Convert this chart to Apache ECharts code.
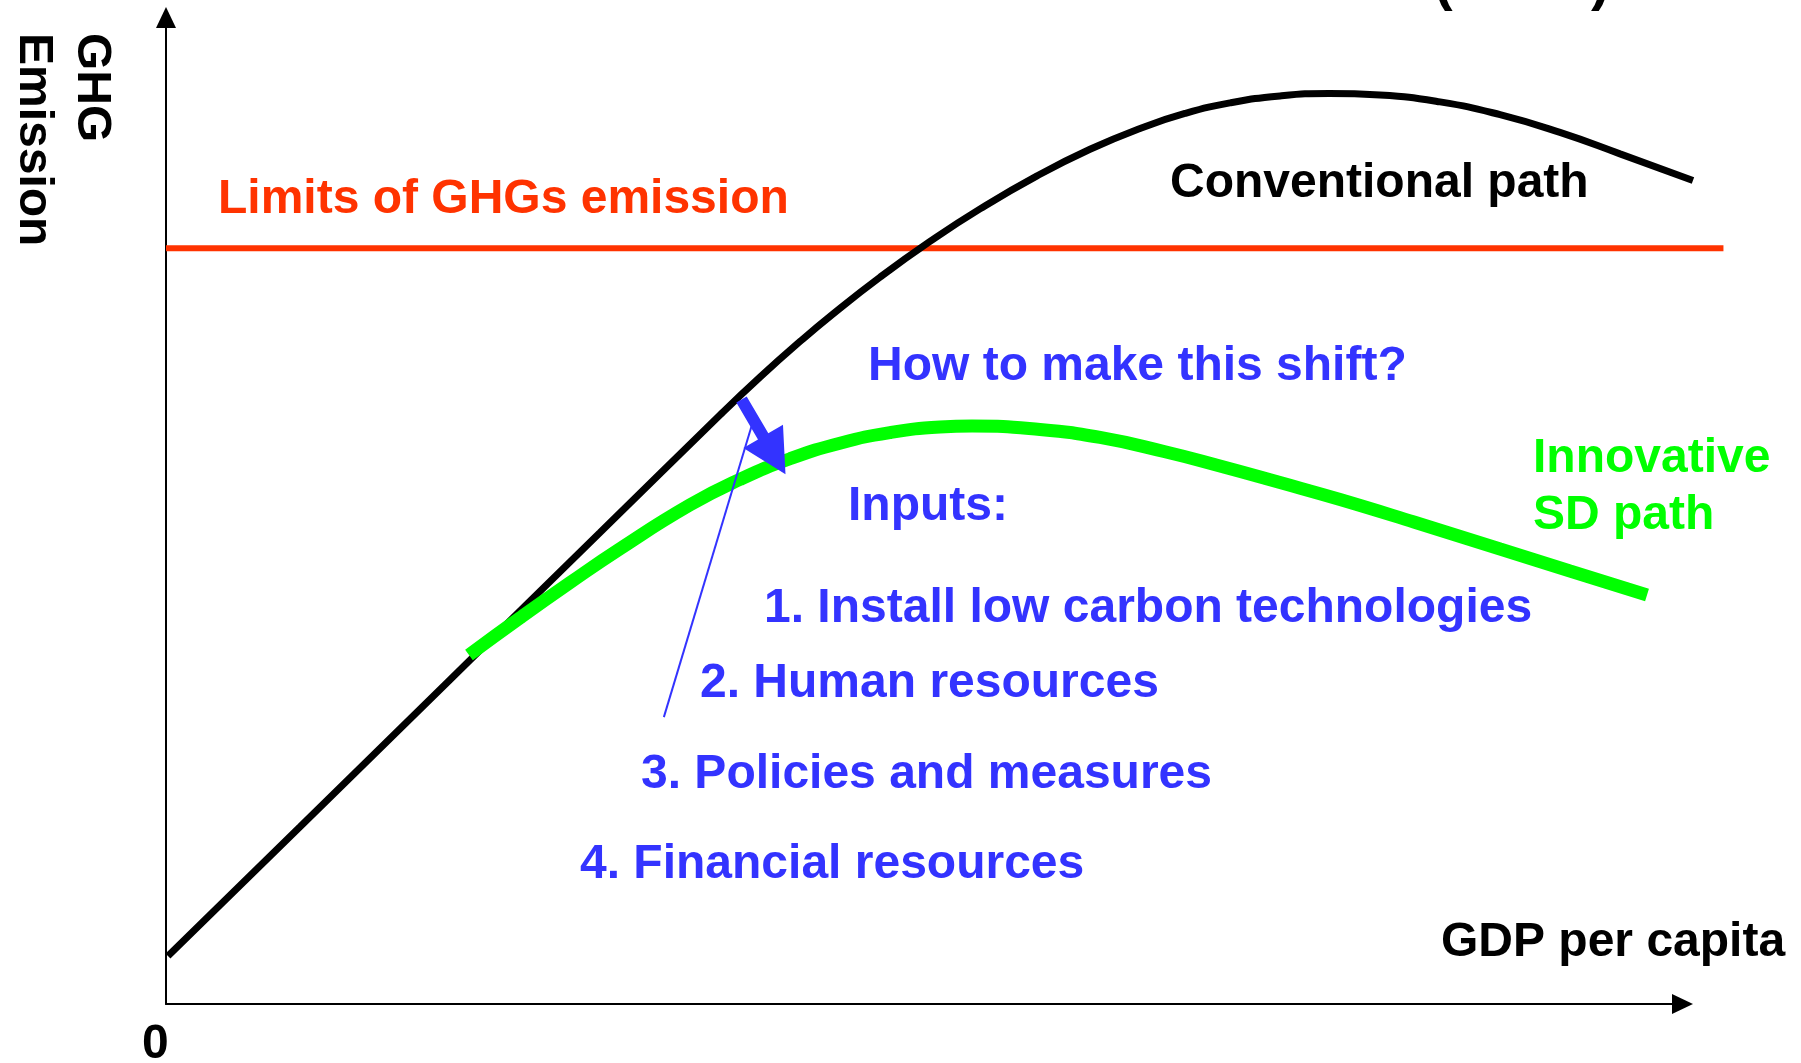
<!DOCTYPE html>
<html><head><meta charset="utf-8">
<script src="https://cdn.jsdelivr.net/npm/echarts@6/dist/echarts.min.js"></script>
<style>html,body{margin:0;padding:0;background:#fff}#c{width:1801px;height:1063px}</style>
</head><body><div id="c"></div>
<script>
// Conventional development path (x: GDP per capita, % of axis; y: GHG emission, % of axis)
const conventionalPath = [
  [0.13, 4.87], [8.84, 17.98], [18.73, 32.88], [28.62, 47.79], [36.53, 59.71],
  [39.17, 63.55], [41.81, 67.16], [43.98, 69.95], [47.08, 73.67], [50.38, 77.30],
  [53.68, 80.60], [57.44, 83.95], [60.93, 86.64], [64.23, 88.75], [67.19, 90.27],
  [70.16, 91.34], [73.46, 92.05], [76.69, 92.29], [80.05, 92.14], [84.01, 91.45],
  [87.97, 90.15], [91.92, 88.35], [95.88, 86.18], [100.69, 83.47]
];
// Innovative sustainable-development path
const innovativePath = [
  [19.98, 35.38], [23.34, 39.14], [26.64, 42.71], [29.94, 46.15], [34.55, 50.59],
  [37.85, 53.18], [41.15, 55.27], [44.44, 56.85], [47.74, 57.92], [51.04, 58.49],
  [53.15, 58.59], [57.63, 58.24], [61.59, 57.43], [65.81, 56.01], [69.50, 54.54],
  [73.46, 52.86], [77.42, 51.14], [82.29, 48.86], [87.97, 46.12], [92.58, 43.89],
  [97.66, 41.46]
];
const emissionLimit = 76.6;
const limitSpan = [0, 102.7];
const shiftArrow = [[37.95, 61.27, 40.85, 53.70]];
const pointerLine = [[32.83, 29.08], [38.63, 58.66]];
const inputItems = ['1. Install low carbon technologies', '2. Human resources', '3. Policies and measures', '4. Financial resources'];
const axisTitles = { x: 'GDP per capita', y: ['GHG', 'Emission'], origin: '0' };

const FS = 48;
const K = 0.28;
const FONT = '"Liberation Sans", Arial, sans-serif';
const BLUE = '#3333FF', RED = '#FF3300', GREEN = '#00FF00';
function txt(text, x, baseline, color, extra) {
  return Object.assign({
    type: 'text', x: x, y: baseline - K * FS, z: 100, silent: true,
    style: { text: text, fill: color, fontSize: FS, fontWeight: 'bold', fontFamily: FONT, align: 'left', verticalAlign: 'middle' }
  }, extra || {});
}
const hiddenAxis = {
  type: 'value', min: 0, show: false,
  axisLine: { show: false }, axisTick: { show: false }, axisLabel: { show: false }, splitLine: { show: false }
};
const arrowAxis = {
  type: 'value', min: 0, max: 100,
  axisLine: { show: true, onZero: false, symbol: ['none', 'triangle'], symbolSize: [20, 21], lineStyle: { color: '#000', width: 2 } },
  axisTick: { show: false }, axisLabel: { show: false }, splitLine: { show: false }
};

const chart = echarts.init(document.getElementById('c'), null, { renderer: 'canvas' });
chart.setOption({
  backgroundColor: '#ffffff',
  animation: false,
  grid: [
    { left: 166, right: 118.5, top: 17.5, bottom: 59 },
    { left: 166, right: 1801 - (166 + 102.7 * 15.165), top: 17.5, bottom: 59 }
  ],
  xAxis: [
    Object.assign({ gridIndex: 0 }, arrowAxis),
    Object.assign({}, hiddenAxis, { gridIndex: 1, max: 102.7 })
  ],
  yAxis: [
    Object.assign({ gridIndex: 0 }, arrowAxis),
    Object.assign({}, hiddenAxis, { gridIndex: 1, max: 100 })
  ],
  series: [
    { type: 'line', name: 'limit', xAxisIndex: 1, yAxisIndex: 1, clip: false, silent: true, showSymbol: false,
      data: [[limitSpan[0], emissionLimit], [limitSpan[1], emissionLimit]],
      lineStyle: { color: RED, width: 6 }, z: 2 },
    { type: 'line', name: 'Conventional path', xAxisIndex: 1, yAxisIndex: 1, clip: false, silent: true, showSymbol: false, smooth: 0.5,
      data: conventionalPath, lineStyle: { color: '#000', width: 7, cap: 'butt' }, z: 3 },
    { type: 'line', name: 'Innovative SD path', xAxisIndex: 1, yAxisIndex: 1, clip: false, silent: true, showSymbol: false, smooth: 0.5,
      data: innovativePath, lineStyle: { color: GREEN, width: 13, cap: 'butt' }, z: 4 },
    { type: 'line', name: 'pointer', xAxisIndex: 1, yAxisIndex: 1, clip: false, silent: true, showSymbol: false,
      data: pointerLine, lineStyle: { color: BLUE, width: 2 }, z: 5 },
    { type: 'custom', name: 'shift', xAxisIndex: 1, yAxisIndex: 1, clip: false, silent: true, z: 6,
      data: shiftArrow,
      encode: { x: [0, 2], y: [1, 3] },
      renderItem: function (params, api) {
        const p0 = api.coord([api.value(0), api.value(1)]);
        const p1 = api.coord([api.value(2), api.value(3)]);
        const dx = p1[0] - p0[0], dy = p1[1] - p0[1];
        const L = Math.sqrt(dx * dx + dy * dy);
        const ux = dx / L, uy = dy / L, nx = -uy, ny = ux;
        const hl = 44, hw = 23, sw = 6;
        const bx = p1[0] - ux * hl, by = p1[1] - uy * hl;
        const pts = [
          [p0[0] + nx * sw, p0[1] + ny * sw], [bx + nx * sw, by + ny * sw], [bx + nx * hw, by + ny * hw],
          [p1[0], p1[1]],
          [bx - nx * hw, by - ny * hw], [bx - nx * sw, by - ny * sw], [p0[0] - nx * sw, p0[1] - ny * sw]
        ];
        return { type: 'polygon', shape: { points: pts }, style: { fill: BLUE } };
      }
    }
  ],
  graphic: [
    txt('Limits of GHGs emission', 218, 213, RED),
    txt('Conventional path', 1170, 197, '#000'),
    txt('How to make this shift?', 868, 380, BLUE),
    txt('Inputs:', 848, 520, BLUE),
    txt('Innovative', 1533, 472, GREEN),
    txt('SD path', 1533, 529, GREEN),
    txt(inputItems[0], 764, 622, BLUE),
    txt(inputItems[1], 700, 697, BLUE),
    txt(inputItems[2], 641, 788, BLUE),
    txt(inputItems[3], 580, 878, BLUE),
    txt(axisTitles.x, 1441, 956, '#000'),
    txt(axisTitles.origin, 142, 1058, '#000'),
    { type: 'text', x: 91, y: 33, rotation: -Math.PI / 2, z: 100, silent: true,
      style: { text: axisTitles.y[0], fill: '#000', fontSize: FS, fontWeight: 'bold', fontFamily: FONT, align: 'left', verticalAlign: 'middle' } },
    { type: 'text', x: 33, y: 33, rotation: -Math.PI / 2, z: 100, silent: true,
      style: { text: axisTitles.y[1], fill: '#000', fontSize: FS, fontWeight: 'bold', fontFamily: FONT, align: 'left', verticalAlign: 'middle' } },
    { type: 'text', x: 1434, y: 15 - 0.21 * 56 - 0.3465 * 56, z: 100, silent: true,
      style: { text: '(', fill: '#000', fontSize: 56, fontWeight: 'bold', fontFamily: FONT, align: 'left', verticalAlign: 'middle' } },
    { type: 'text', x: 1591, y: 15 - 0.21 * 56 - 0.3465 * 56, z: 100, silent: true,
      style: { text: ')', fill: '#000', fontSize: 56, fontWeight: 'bold', fontFamily: FONT, align: 'left', verticalAlign: 'middle' } }
  ]
});
</script>
</body></html>
